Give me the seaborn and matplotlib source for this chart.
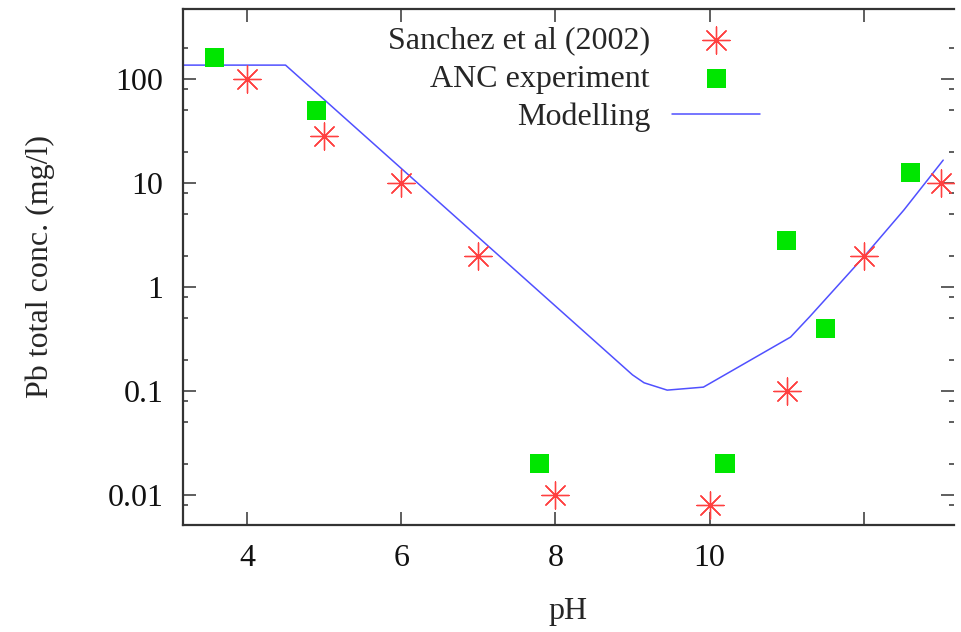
import numpy as np
import pandas as pd
import matplotlib
matplotlib.use("Agg")
import matplotlib.pyplot as plt
import seaborn as sns
from matplotlib.ticker import FixedLocator, NullFormatter

# ---- data ----
sanchez_ph = [4, 5, 6, 7, 8, 10, 11, 12, 13]
sanchez_pb = [100, 28, 10, 2, 0.01, 0.008, 0.1, 2, 10]

anc_ph = [3.58, 4.9, 7.8, 10.2, 11.0, 11.5, 12.6]
anc_pb = [160, 50, 0.02, 0.02, 2.8, 0.4, 12.5]

model_ph = [3.17, 4.5, 9.0, 9.15, 9.45, 9.92, 11.05, 11.3, 12.0, 12.52, 13.03]
model_pb = [136, 136, 0.143, 0.12, 0.102, 0.109, 0.33, 0.52, 1.95, 5.5, 16.6]

labels = ["Sanchez et al (2002)", "ANC experiment", "Modelling"]
xticks = [4, 6, 8, 10, 12]
xticklabels = ["4", "6", "8", "10", ""]
yticks = [0.01, 0.1, 1, 10, 100]
yticklabels = ["0.01", "0.1", "1", "10", "100"]

# ---- style ----
sns.set_style("ticks")
plt.rcParams["font.family"] = ["Liberation Serif", "DejaVu Serif"]
FS = 23

fig = plt.figure(figsize=(9.62, 6.32), dpi=100)
ax = fig.add_axes([183 / 962, 1 - 525 / 632, (954 - 183) / 962, (525 - 9) / 632])

red = "#ff4040"
green = "#00e600"
blue = "#5050ff"

df_s = pd.DataFrame({"pH": sanchez_ph, "Pb": sanchez_pb})
df_a = pd.DataFrame({"pH": anc_ph, "Pb": anc_pb})
df_m = pd.DataFrame({"pH": model_ph, "Pb": model_pb})

sns.scatterplot(data=df_s, x="pH", y="Pb", ax=ax, marker=(8, 2, 0), s=19.5 ** 2,
                color=red, linewidth=0.95, label=labels[0], zorder=3)
sns.scatterplot(data=df_a, x="pH", y="Pb", ax=ax, marker="s", s=13.7 ** 2,
                color=green, edgecolor="none", linewidth=0, label=labels[1], zorder=3)
sns.lineplot(data=df_m, x="pH", y="Pb", ax=ax, color=blue, lw=1.1, sort=False,
             estimator=None, label=labels[2], zorder=2)

ax.set_yscale("log")
ax.set_xlim(3.17, 13.17)
ax.set_ylim(0.00515, 471)

ax.set_xticks(xticks)
ax.set_xticklabels(xticklabels, fontsize=FS)
ax.yaxis.set_major_locator(FixedLocator(yticks))
ax.set_yticklabels(yticklabels, fontsize=FS)
minors = [m * d for d in [0.001, 0.01, 0.1, 1, 10, 100] for m in (2, 5, 8)]
ax.yaxis.set_minor_locator(FixedLocator(minors))
ax.yaxis.set_minor_formatter(NullFormatter())

spc = "#333333"
for s in ax.spines.values():
    s.set_linewidth(1.6)
    s.set_color(spc)
ax.spines["right"].set_visible(False)

ax.tick_params(axis="both", which="major", direction="in", length=9.5, width=1.1,
               color=spc, pad=14, top=True, right=True, labelcolor="#111111")
ax.tick_params(axis="y", which="minor", direction="in", length=3.6, width=1.1,
               color=spc, right=True)
ax.tick_params(axis="x", which="minor", bottom=False, top=False)

ax.set_xlabel("pH", fontsize=FS, va="center")
ax.xaxis.set_label_coords(0.5, (525 - 612) / 516)
ax.set_ylabel("Pb total conc. (mg/l)", fontsize=FS, va="center")
ax.yaxis.set_label_coords((40 - 183) / 771, 0.5)

handles, labs = ax.get_legend_handles_labels()
ax.legend(handles, labs, loc="upper right", bbox_to_anchor=(760 / 962, 1 - 26 / 632),
          bbox_transform=fig.transFigure, frameon=False, markerfirst=False,
          fontsize=FS, handlelength=2.75, handletextpad=0.69, labelspacing=0.28,
          borderpad=0, borderaxespad=0)

fig.savefig("out.png", dpi=100)
